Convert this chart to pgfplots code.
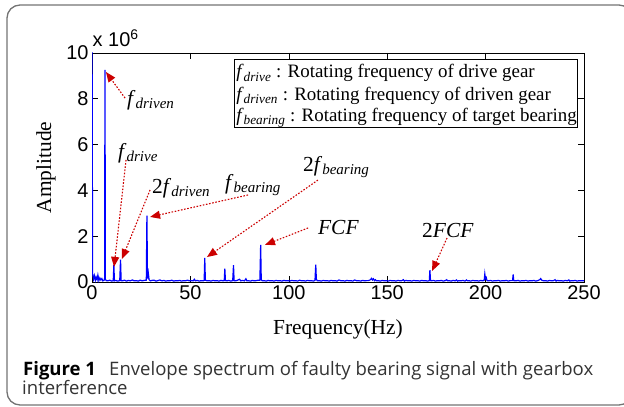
\documentclass[border=0pt]{standalone}
\usepackage{pgfplots}
\pgfplotsset{compat=1.18}
\usepackage{fontspec}
\setmainfont{Liberation Serif}
\newfontfamily\arialf{Liberation Sans}
\newfontfamily\capfont{Open Sans}
\usetikzlibrary{arrows.meta}
\newcommand{\fs}[1]{\textit{f}\textsubscript{\textit{#1}}}
\definecolor{arrred}{RGB}{204,0,0}
\begin{document}
\begin{tikzpicture}[x=1bp,y=1bp]
\clip (0,0) rectangle (624,406);
\path (0,0) rectangle (624,406);
\draw[black!55, line width=1.3bp, rounded corners=13bp] (7,1) rectangle (632,401);
\begin{axis}[
  at={(92bp,124bp)}, anchor=south west,
  scale only axis, width=492bp, height=229bp,
  xmin=0, xmax=250, ymin=0, ymax=10,
  xtick={0,50,100,150,200,250},
  ytick={0,2,4,6,8,10},
  tick align=inside,
  major tick length=6bp,
  tick style={black, line width=0.6bp},
  axis line style={black, line width=0.9bp},
  ticklabel style={font=\arialf\fontsize{20}{20}\selectfont},
  /pgf/number format/assume math mode=true,
  xlabel={Frequency(Hz)},
  ylabel={Amplitude},
  label style={font=\fontsize{21.5}{22}\selectfont},
  xlabel style={at={(axis description cs:0.5,-0.231)}, anchor=base},
  ylabel style={at={(axis description cs:-0.0935,0.5)}, anchor=center},
  clip mode=individual,
]
\addplot[blue, line width=1.2bp] table {
x y
0 12
0.3 0.35
0.8 0.12
1.2 0.28
1.7 0.08
2.1 0.22
2.6 0.10
3.0 0.30
3.5 0.06
4.0 0.18
4.5 0.09
5.0 0.15
5.5 0.05
6.0 0.07
6.4 0.10
6.6 9.26
6.8 0.12
7.2 0.06
8.0 0.05
9.0 0.08
10.0 0.04
10.8 0.06
11.1 0.74
11.4 0.05
12.0 0.07
13.0 0.04
14.1 0.06
14.5 0.98
14.8 0.06
15.5 0.05
16.5 0.08
17.5 0.04
18.5 0.07
19.5 0.05
20.5 0.09
21.5 0.05
22.5 0.06
23.5 0.04
24.5 0.08
25.5 0.05
26.5 0.07
27.6 0.08
27.9 2.90
28.2 0.15
28.6 0.40
29.0 0.10
29.6 0.05
30.5 0.07
31.5 0.08
32.5 0.04
33.5 0.06
34.5 0.09
35.5 0.05
36.5 0.07
37.5 0.04
38.5 0.06
39.5 0.05
40.5 0.08
41.5 0.04
42.5 0.06
43.5 0.05
44.5 0.07
45.5 0.04
46.5 0.06
47.5 0.05
48.5 0.08
49.5 0.05
50.5 0.06
51.5 0.05
52.0 0.12
52.5 0.05
53.5 0.07
54.5 0.04
55.5 0.06
56.5 0.05
57.0 0.07
57.3 1.05
57.6 0.08
58.5 0.05
59.5 0.06
60.5 0.04
61.5 0.07
62.5 0.05
63.5 0.06
64.5 0.04
65.5 0.07
66.5 0.05
67.2 0.06
67.5 0.58
67.8 0.06
68.5 0.05
69.5 0.07
70.5 0.04
71.5 0.06
71.9 0.74
72.2 0.06
73.0 0.05
74.0 0.08
75.0 0.12
75.5 0.05
76.5 0.07
77.5 0.05
78.2 0.14
78.7 0.05
79.5 0.06
80.5 0.04
81.5 0.07
82.5 0.05
83.5 0.06
84.5 0.08
85.3 0.07
85.7 1.62
86.0 0.10
86.5 0.05
87.5 0.06
88.5 0.04
89.5 0.07
90.5 0.05
91.5 0.06
92.5 0.04
93.5 0.07
94.5 0.05
95.5 0.06
96.5 0.04
97.5 0.07
98.5 0.05
99.5 0.06
100.5 0.04
101.5 0.07
102.5 0.05
103.5 0.06
104.5 0.04
105.5 0.08
106.5 0.05
107.5 0.06
108.5 0.04
109.5 0.07
110.5 0.05
111.5 0.06
112.5 0.04
113.3 0.07
113.7 0.76
114.0 0.12
114.5 0.05
115.5 0.06
116.5 0.04
117.5 0.07
118.5 0.05
119.5 0.06
120.5 0.04
121.5 0.07
122.5 0.05
123.5 0.06
124.5 0.04
125.5 0.09
126.5 0.05
127.5 0.06
128.5 0.04
129.5 0.07
130.5 0.05
131.5 0.06
132.5 0.04
133.5 0.09
134.5 0.05
135.5 0.06
136.5 0.04
137.5 0.07
138.5 0.05
139.5 0.06
140.5 0.06
141.5 0.10
142.0 0.16
142.5 0.09
143.0 0.14
143.5 0.06
144.0 0.10
144.5 0.05
145.5 0.06
146.5 0.04
147.5 0.07
148.5 0.05
149.5 0.06
150.5 0.04
151.5 0.07
152.5 0.05
153.5 0.06
154.5 0.04
155.5 0.07
156.5 0.05
157.5 0.06
158.2 0.10
158.7 0.04
159.5 0.07
160.5 0.05
161.5 0.06
162.5 0.04
163.5 0.07
164.5 0.05
165.5 0.06
166.5 0.04
167.5 0.07
168.5 0.05
169.5 0.06
170.5 0.04
171.4 0.06
171.7 0.52
172.0 0.06
172.5 0.05
173.5 0.07
174.5 0.04
175.5 0.06
176.5 0.05
177.5 0.07
178.5 0.04
179.5 0.06
180.2 0.10
180.7 0.05
181.5 0.06
182.5 0.04
183.5 0.07
184.5 0.05
185.2 0.09
185.7 0.04
186.5 0.06
187.5 0.05
188.5 0.07
189.5 0.04
190.3 0.09
190.8 0.05
191.5 0.06
192.5 0.04
193.5 0.07
194.5 0.05
195.5 0.06
196.5 0.04
197.5 0.07
198.5 0.05
199.3 0.08
199.6 0.35
199.9 0.15
200.3 0.20
200.7 0.06
201.5 0.05
202.5 0.07
203.5 0.04
204.5 0.06
205.5 0.05
206.5 0.07
207.5 0.04
208.5 0.06
209.5 0.05
210.5 0.07
211.5 0.04
212.5 0.06
213.7 0.06
214.0 0.33
214.3 0.06
215.5 0.05
216.5 0.07
217.5 0.04
218.5 0.06
219.5 0.05
220.5 0.07
221.5 0.04
222.5 0.06
223.5 0.05
224.5 0.07
225.5 0.04
226.5 0.06
227.5 0.10
228.0 0.15
228.5 0.08
229.5 0.05
230.5 0.06
231.5 0.04
232.5 0.07
233.5 0.05
234.5 0.06
235.3 0.10
235.8 0.04
236.5 0.07
237.5 0.05
238.5 0.06
239.5 0.04
240.5 0.07
241.5 0.05
242.3 0.09
242.8 0.04
243.5 0.06
244.5 0.05
245.5 0.07
246.5 0.04
247.5 0.06
248.5 0.05
249.5 0.06
250 0.05
};
% key box
\draw[black, line width=0.8bp, fill=white] (axis cs:72.2,9.74) rectangle (axis cs:246.4,6.77);
\begin{scope}[every node/.style={anchor=base west, inner sep=0pt, font=\fontsize{19}{19}\selectfont}]
\node at (axis cs:73.2,8.91) {\fs{drive} : Rotating frequency of drive gear};
\node at (axis cs:73.2,7.92) {\fs{driven} : Rotating frequency of driven gear};
\node at (axis cs:73.2,7.00) {\fs{bearing} : Rotating frequency of target bearing};
\end{scope}
% annotations
\begin{scope}[every node/.style={anchor=west, inner sep=0pt, font=\fontsize{21.5}{22}\selectfont}]
\node at (axis cs:17.8,7.95) {\fs{driven}};
\node at (axis cs:13.2,5.63) {\fs{drive}};
\node at (axis cs:30.5,4.10) {2\fs{driven}};
\node at (axis cs:67.6,4.24) {\fs{bearing}};
\node at (axis cs:107.2,5.02) {2\fs{bearing}};
\node at (axis cs:114.8,2.36) {\textit{FCF}};
\node at (axis cs:167.7,2.27) {2\textit{FCF}};
\end{scope}
\begin{scope}[arrred, line width=1.1bp, dash pattern=on 1.6bp off 1.6bp, -{Triangle[length=10bp,width=8bp]}]
\draw (axis cs:16.8,8.03) -- (axis cs:7.1,9.17);
\draw (axis cs:17.3,5.33) -- (axis cs:11.2,0.66);
\draw (axis cs:29.5,4.02) -- (axis cs:15.2,1.0);
\draw (axis cs:79.3,3.80) -- (axis cs:29.5,2.84);
\draw (axis cs:114.8,4.45) -- (axis cs:58.4,1.09);
\draw (axis cs:109.8,2.36) -- (axis cs:87.9,1.62);
\draw (axis cs:180.4,1.92) -- (axis cs:172.8,0.48);
\end{scope}
\node[anchor=base west, inner sep=0pt, font=\arialf\fontsize{20}{20}\selectfont] at ([yshift=6bp,xshift=0.5bp]rel axis cs:0,1) {x 10\textsuperscript{6}};
\end{axis}
\node[anchor=base west, inner sep=0pt, font=\capfont\fontsize{18.6}{19}\selectfont, text=black!80] at (23,31) {\textbf{\color{black}Figure 1}\hspace{0.45em} Envelope spectrum of faulty bearing signal with gearbox};
\node[anchor=base west, inner sep=0pt, font=\capfont\fontsize{18.6}{19}\selectfont, text=black!80] at (22,12) {interference};
\end{tikzpicture}
\end{document}
